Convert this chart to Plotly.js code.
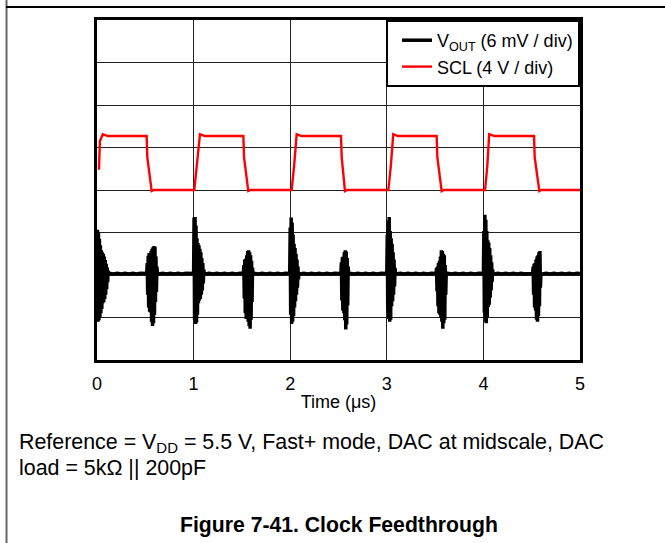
<!DOCTYPE html>
<html>
<head>
<meta charset="utf-8">
<script src="https://cdn.plot.ly/plotly-3.0.1.min.js"></script>
<style>html,body{margin:0;padding:0;background:#fff;}#chart{width:665px;height:543px;}</style>
</head>
<body>
<div id="chart"></div>
<script>
// ---- Data ----
// X axis tick labels (time, µs)
const timeTicks = [0, 1, 2, 3, 4, 5];

// SCL clock (volts), 4 V / div
const sclTime = [
  0.020, 0.030, 0.060, 0.110, 0.514, 0.521, 0.566, 0.590,
  1.007, 1.032, 1.066, 1.115, 1.515, 1.522, 1.566, 1.590,
  2.015, 2.040, 2.067, 2.115, 2.526, 2.533, 2.567, 2.590,
  3.016, 3.041, 3.067, 3.115, 3.516, 3.523, 3.568, 3.590,
  4.017, 4.040, 4.060, 4.115, 4.524, 4.531, 4.579, 4.600, 5.000
];
const sclVolts = [
  1.9, 4.6, 5.25, 5.08, 5.08, 3.1, -0.1, 0.0,
  0.0, 2.2, 5.25, 5.08, 5.08, 3.1, -0.1, 0.0,
  0.0, 2.2, 5.25, 5.08, 5.08, 3.1, -0.1, 0.0,
  0.0, 2.2, 5.25, 5.08, 5.08, 3.1, -0.1, 0.0,
  0.0, 2.2, 5.25, 5.08, 5.08, 3.1, -0.1, 0.0, 0.0
];

// VOUT (mV, relative to midscale level), 6 mV / div
const voutTime = [
  0.000,0.005,0.010,0.015,0.020,0.025,0.030,0.035,0.040,0.045,0.050,0.055,0.060,0.065,0.070,0.075,0.080,0.085,0.090,0.095,0.100,0.105,0.110,0.115,0.120,
  0.13,0.17,0.21,0.25,0.29,0.33,0.37,0.41,0.45,0.49,
  0.515,0.520,0.525,0.530,0.535,0.540,0.545,0.550,0.555,0.560,0.565,0.570,0.575,0.580,0.585,0.590,0.595,0.600,0.605,0.610,0.615,0.620,0.625,
  0.64,0.68,0.72,0.76,0.80,0.84,0.88,0.92,0.96,
  1.000,1.005,1.010,1.015,1.020,1.025,1.030,1.035,1.040,1.045,1.050,1.055,1.060,1.065,1.070,1.075,1.080,1.085,1.090,1.095,1.100,1.105,1.110,
  1.12,1.16,1.20,1.24,1.28,1.32,1.36,1.40,1.44,1.48,1.505,
  1.515,1.520,1.525,1.530,1.535,1.540,1.545,1.550,1.555,1.560,1.565,1.570,1.575,1.580,1.585,1.590,1.595,1.600,1.605,1.610,1.615,
  1.63,1.67,1.71,1.75,1.79,1.83,1.87,1.91,1.95,1.985,
  1.995,2.000,2.005,2.010,2.015,2.020,2.025,2.030,2.035,2.040,2.045,2.050,2.055,2.060,2.065,2.070,2.075,2.080,2.085,2.090,
  2.10,2.14,2.18,2.22,2.26,2.30,2.34,2.38,2.42,2.46,2.50,
  2.525,2.530,2.535,2.540,2.545,2.550,2.555,2.560,2.565,2.570,2.575,2.580,2.585,2.590,2.595,2.600,2.605,
  2.62,2.66,2.70,2.74,2.78,2.82,2.86,2.90,2.94,2.98,
  3.000,3.005,3.010,3.015,3.020,3.025,3.030,3.035,3.040,3.045,3.050,3.055,3.060,3.065,3.070,3.075,3.080,3.085,3.090,
  3.10,3.14,3.18,3.22,3.26,3.30,3.34,3.38,3.42,3.46,3.49,
  3.510,3.515,3.520,3.525,3.530,3.535,3.540,3.545,3.550,3.555,3.560,3.565,3.570,3.575,3.580,3.585,3.590,3.595,3.600,3.605,3.610,3.615,
  3.63,3.67,3.71,3.75,3.79,3.83,3.87,3.91,3.95,3.985,
  4.000,4.005,4.010,4.015,4.020,4.025,4.030,4.035,4.040,4.045,4.050,4.055,4.060,4.065,4.070,4.075,4.080,4.085,4.090,4.095,4.100,
  4.11,4.15,4.19,4.23,4.27,4.31,4.35,4.39,4.43,4.47,4.50,
  4.510,4.515,4.520,4.525,4.530,4.535,4.540,4.545,4.550,4.555,4.560,4.565,4.570,4.575,4.580,4.585,4.590,4.595,
  4.61,4.65,4.69,4.73,4.77,4.81,4.85,4.89,4.93,4.97,5.00
];
const voutMilliVolts = [
  0.0,6.2,-6.8,5.8,-6.6,4.9,-6.2,4.0,-5.6,3.3,-5.0,3.0,-4.2,2.8,-4.0,2.4,-3.6,1.9,-3.0,1.4,-2.2,0.9,-1.2,0.4,0.0,
  0.05,-0.04,0.06,-0.05,0.04,-0.06,0.05,-0.04,0.06,0.0,
  0.0,1.5,-3.0,2.5,-4.8,2.9,-5.4,2.8,-5.5,3.2,-6.8,3.5,-7.4,3.7,-7.0,3.9,-5.8,3.8,-4.0,2.4,-2.6,1.0,0.0,
  -0.05,0.04,-0.06,0.05,-0.04,0.06,-0.05,0.04,0.0,
  0.0,7.9,-6.5,8.0,-7.1,6.8,-6.9,5.0,-5.8,4.3,-4.2,4.0,-3.8,3.5,-3.6,3.0,-3.0,2.2,-2.4,1.5,-1.4,0.6,0.0,
  -0.04,0.06,-0.05,0.04,-0.06,0.05,-0.04,0.06,-0.05,0.04,0.0,
  0.0,1.2,-3.5,2.0,-5.6,2.1,-6.4,2.6,-6.0,3.2,-6.8,3.3,-7.4,3.0,-7.8,2.6,-6.5,1.8,-4.0,0.8,0.0,
  0.05,-0.04,0.06,-0.05,0.04,-0.06,0.05,-0.04,0.06,0.0,
  0.0,6.5,-5.8,7.9,-7.1,7.2,-6.8,5.5,-6.0,4.2,-4.8,3.6,-3.9,2.8,-3.0,2.0,-2.0,1.0,-0.8,0.0,
  -0.05,0.06,-0.04,0.05,-0.06,0.04,-0.05,0.06,-0.04,0.05,0.0,
  0.0,1.6,-3.8,2.3,-5.2,2.4,-5.6,3.0,-6.6,3.3,-7.9,3.1,-7.2,2.2,-4.5,1.0,0.0,
  0.04,-0.05,0.06,-0.04,0.05,-0.06,0.04,-0.05,0.06,0.0,
  0.0,5.5,-5.2,7.5,-6.4,8.0,-6.8,6.0,-6.5,5.0,-4.6,4.2,-3.9,3.0,-3.0,2.0,-1.8,0.8,0.0,
  -0.04,0.05,-0.06,0.04,-0.05,0.06,-0.04,0.05,-0.06,0.04,0.0,
  0.0,0.8,-2.5,1.0,-4.6,1.5,-5.6,1.8,-5.8,2.4,-6.2,3.3,-6.8,3.2,-7.8,2.8,-7.0,2.6,-6.5,1.2,-3.0,0.0,
  0.05,-0.06,0.04,-0.05,0.06,-0.04,0.05,-0.06,0.04,0.0,
  0.0,6.0,-5.5,8.3,-6.8,7.6,-7.0,6.0,-6.2,4.7,-4.7,4.4,-4.4,3.6,-3.4,2.6,-2.4,1.6,-1.2,0.6,0.0,
  -0.05,0.06,-0.04,0.05,-0.06,0.04,-0.05,0.06,-0.04,0.05,0.0,
  0.0,1.0,-3.0,1.4,-4.8,1.5,-5.2,2.0,-6.5,2.4,-6.8,2.6,-6.0,3.0,-4.6,3.2,-2.0,0.0,
  -0.05,0.06,-0.04,0.05,-0.06,0.04,-0.05,0.06,-0.04,0.05,0.0
];

// Legend / text labels
const seriesNames = ['V<sub>OUT</sub> (6 mV / div)', 'SCL (4 V / div)'];
const xTitle = 'Time (\u03BCs)';
const noteLines = ['Reference = V<sub>DD</sub> = 5.5 V, Fast+ mode, DAC at midscale, DAC',
                   'load = 5k\u03A9 || 200pF'];
const figureCaption = '<b>Figure 7-41. Clock Feedthrough</b>';

// ---- Layout geometry (pixels) ----
const L = 97, T = 20, W = 483, H = 340, FW = 665, FH = 543;
const px = x => (x - L) / W;
const py = y => (T + H - y) / H;
const FONT = 'Arial, "Liberation Sans", sans-serif';

const traces = [
  { x: voutTime, y: voutMilliVolts, name: seriesNames[0], type: 'scatter', mode: 'lines',
    yaxis: 'y2', line: { color: '#000000', width: 3.5 } },
  { x: sclTime, y: sclVolts, name: seriesNames[1], type: 'scatter', mode: 'lines',
    yaxis: 'y', line: { color: '#ff0000', width: 2.4 } }
];

const layout = {
  width: FW, height: FH,
  margin: { l: L, r: FW - L - W, t: T, b: FH - T - H, pad: 0 },
  paper_bgcolor: '#ffffff', plot_bgcolor: '#ffffff',
  font: { family: FONT, color: '#000000', size: 18 },
  showlegend: true,
  legend: {
    x: 1, xanchor: 'right', y: 1, yanchor: 'top',
    bgcolor: '#ffffff', bordercolor: '#000000', borderwidth: 2,
    font: { family: FONT, size: 18, color: '#000000' },
    traceorder: 'normal', itemclick: false, indentation: 9
  },
  xaxis: {
    range: [0, 5], tickvals: timeTicks, ticktext: timeTicks.map(String),
    ticks: '', showgrid: true, gridcolor: '#222222', gridwidth: 1,
    showline: true, linecolor: '#000000', linewidth: 3, mirror: true,
    zeroline: false, tickfont: { family: FONT, size: 18 }, ticklabelstandoff: 5,
    title: { text: xTitle, font: { family: FONT, size: 18 }, standoff: 3 },
    fixedrange: true
  },
  yaxis: {
    range: [-16, 16], tick0: -16, dtick: 4, showticklabels: false, ticks: '',
    showgrid: true, gridcolor: '#222222', gridwidth: 1,
    showline: true, linecolor: '#000000', linewidth: 3, mirror: true,
    zeroline: false, fixedrange: true
  },
  yaxis2: {
    range: [-12.2, 35.8], overlaying: 'y', showticklabels: false, ticks: '',
    showgrid: false, zeroline: false, showline: false, fixedrange: true
  },
  shapes: [
    { type: 'line', xref: 'paper', yref: 'paper', x0: px(6.5), x1: px(6.5), y0: py(0), y1: py(FH),
      line: { color: '#666666', width: 2 } },
    { type: 'line', xref: 'paper', yref: 'paper', x0: px(6), x1: px(FW), y0: py(7), y1: py(7),
      line: { color: '#000000', width: 2 } }
  ],
  annotations: [
    { xref: 'paper', yref: 'paper', x: px(17), y: py(443), xanchor: 'left', yanchor: 'middle',
      text: noteLines[0], showarrow: false, font: { family: FONT, size: 21.4 } },
    { xref: 'paper', yref: 'paper', x: px(17), y: py(468), xanchor: 'left', yanchor: 'middle',
      text: noteLines[1], showarrow: false, font: { family: FONT, size: 21.4 } },
    { xref: 'paper', yref: 'paper', x: px(339), y: py(524.5), xanchor: 'center', yanchor: 'middle',
      text: figureCaption, showarrow: false, font: { family: FONT, size: 21.2 } }
  ]
};

Plotly.newPlot('chart', traces, layout, { displayModeBar: false, staticPlot: true });
</script>
</body>
</html>
